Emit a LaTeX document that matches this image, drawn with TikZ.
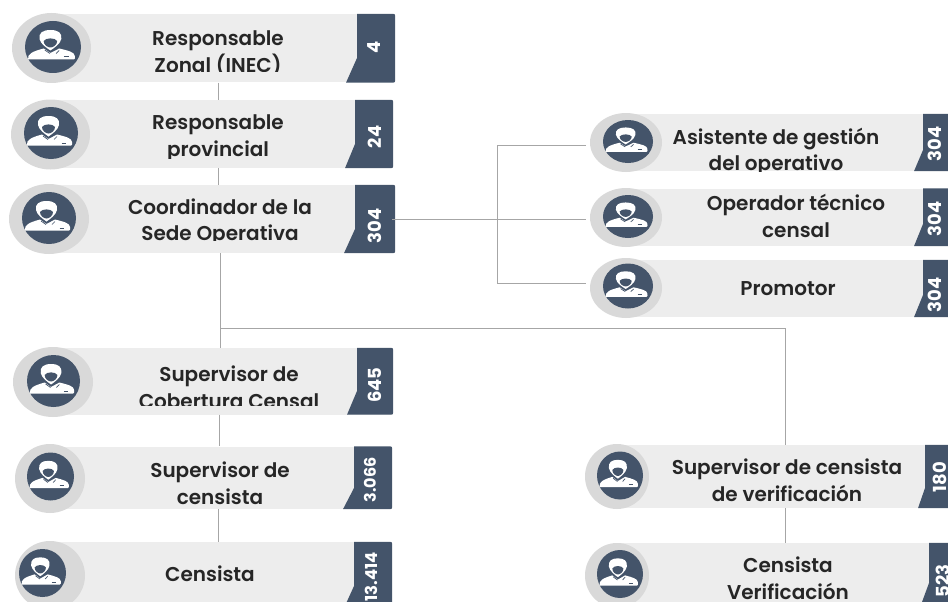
\documentclass[tikz,border=0pt]{standalone}
\usepackage{fontspec}
\setmainfont{Poppins}
\newfontfamily\letra{Poppins SemiBold}
\usepackage{xcolor}
\usetikzlibrary{shapes.geometric}

\begin{document}
\begin{tikzpicture}[x=1pt,y=-1pt,
  barra/.style={fill=fondo,inner sep=0pt},
  aro/.style={ellipse,fill=gris,inner sep=0pt},
  linea/.style={draw=trazo,line width=1pt},
  rotulo/.style={align=center,text=tinta,inner sep=0pt,font=\letra\fontsize{20}{26.5}\selectfont},
  cifra/.style={rotate=90,text=white,inner sep=0pt,font=\bfseries}]
\definecolor{fondo}{HTML}{EDEDED}
\definecolor{gris}{HTML}{D9D9D9}
\definecolor{pizarra}{HTML}{44546A}
\definecolor{trazo}{HTML}{A6A6A6}
\definecolor{tinta}{HTML}{262626}
\useasboundingbox (0,0) rectangle (948,602);
\clip (0,0) rectangle (948,602);
  % franjas con su pestana
  \foreach \nm/\cx/\cy/\an/\al/\xt/\xs/\ys in {zonal/218/48.25/354/68.5/357/346/58,
    prov/218/134/350/68/355/345/144,coord/220/219/350/68/355/344/229,
    cob/219/381.25/348/66.5/357/347/391,sup/218/477.75/348/62.5/354/343/488,
    cen/218/576/348/68/354/343/586,
    asist/787/142.5/340/57/923/914/150,oper/787/217.25/340/57.5/923/914/224,
    prom/787/288.5/340/57/923/914/295,
    ver/785/476.5/336/63/925/918/488,cver/785/576.5/336/67/929/919/583}
  {  \node [barra,minimum width=\an pt,minimum height=\al pt] (\nm) at (\cx,\cy) {};
     \fill [pizarra] (\xt,0 |- \nm.north) [rounded corners=2pt] -- (\nm.north east)
       -- (\nm.south east) [sharp corners] -- (\xs,0 |- \nm.south) -- (\xt,\ys) -- cycle;}
  % aros y figura
  \foreach \nm/\cx/\cy/\rx/\ry/\ix/\iy/\irx/\iry in {zonal/51.5/48/39.5/35/53/47/28/26,
    prov/50.5/134.5/39.5/35/51/133/27/26,coord/49/219/40/35/49/218/27/26,
    cob/53/382/40/35/53.5/381/26.5/26,sup/50/478.5/35/34.5/50.5/476.5/23.5/24,
    cen/50/575.5/35/34.5/42.5/573/23.5/24,
    asist/626/142.5/36/29.5/628/141.5/25/21.5,oper/626/217.5/36/29.5/628/216.5/25/21.5,
    prom/626/288/36/30/628/286/25/22.5,
    ver/617/476.5/32/32.5/620/475.5/23/24,cver/617/575.5/32/32.5/620/574/23/24}
  {  \node [aro,minimum width=2*\rx pt,minimum height=2*\ry pt] (\nm aro) at (\cx,\cy) {};
     \begin{scope}[shift={(\ix,\iy)},xscale={\irx/27},yscale={\iry/26}]
     \fill [pizarra] (0,0) ellipse [x radius=27,y radius=26];
     \fill [white] (-2.5,-17) .. controls (-10,-17) and (-14,-14) .. (-13,-8)
       .. controls (-12,-3) and (-6,1) .. (-2.5,3.5)
       .. controls (1,1) and (7,-3) .. (8,-8)
       .. controls (9,-14) and (5,-17) .. (-2.5,-17) -- cycle;
     \fill [pizarra] (-9,-6) .. controls (-7,-9.5) and (2,-9.5) .. (4,-6)
       .. controls (4,-2) and (0,0.5) .. (-2.5,0.5)
       .. controls (-5,0.5) and (-9,-2) .. (-9,-6) -- cycle;
     \fill [white] (-24,12.5) .. controls (-25,7) and (-20,4.5) .. (-9,1.5) -- (-2.5,6)
       -- (6,1.5) .. controls (14,3.5) and (21,5) .. (21,9)
       .. controls (21.5,11) and (21,12.5) .. (20,12.5) -- cycle;
     \draw [pizarra,line width=0.7pt] (-8,3) -- (-3,6.5) (3,6.5) -- (6,3.5);
     \draw [pizarra,line width=1pt] (10.5,10) -- (15,10);
     \end{scope}}
  % conectores
  \coordinate (asin) at (586,145);
  \coordinate (opin) at (586,219);
  \coordinate (prin) at (586,283);
  \coordinate (rama) at (497,145);
  \coordinate (ramb) at (497,283);
  \coordinate (codo) at (785,328);
  \draw [linea] (zonal.south) -- (prov.north);
  \draw [linea] (prov.south) -- (prov.south |- coord.north);
  \draw [linea] (coord.south) -- (coord.south |- cob.north);
  \draw [linea] (cob.south) -- (cob.south |- sup.north);
  \draw [linea] (sup.south) -- (cen.north);
  \draw [linea] (ver.south) -- (cver.north);
  \draw [linea] (coord.south |- codo) -- (codo) -- (ver.north);
  \draw [linea] (coord.east) ++(-3,0) -- (opin);
  \draw [linea] (asin) -- (rama) -- (ramb) -- (prin);
  % textos, cortados por abajo
  \foreach \nm/\cx/\cy/\yc/\txt in {zonal/218/53.5/72/{Responsable\\Zonal (INEC)},
    prov/218/138/158/{Responsable\\provincial},
    coord/220/222.5/240/{Coordinador de la\\Sede Operativa},
    cob/229/387/405/{Supervisor de\\Cobertura Censal},
    sup/220/483/509/{Supervisor de\\censista},
    cen/210/574/602/{Censista},
    asist/776/152/171/{Asistente de gestión\\del operativo},
    oper/796/216/246/{Operador técnico\\censal},
    prom/788/289/317/{Promotor},
    ver/787/480/508/{Supervisor de censista\\de verificación},
    cver/788/578/602/{Censista\\Verificación}}
  {  \begin{scope}
     \clip (0,0) rectangle (948,\yc);
     \node [rotulo] (\nm txt) at (\cx,\cy) {\txt};
     \end{scope}}
  % cifras
  \foreach \nm/\cx/\cy/\tam/\val in {zonal/374/47/18/4,prov/375/137/18/24,coord/375/226/18/304,
    cob/375/385/18/645,sup/370/480/16/3.066,cen/371/577/16.5/13.414,
    asist/935/144/18/304,oper/935/219/18/304,prom/935/295/18/304,
    ver/940/477/18/180,cver/943/581/18/523}
  {  \node [cifra] (\nm num) at (\cx,\cy) {\fontsize{\tam}{\tam}\selectfont \val};}
\end{tikzpicture}
\end{document}
